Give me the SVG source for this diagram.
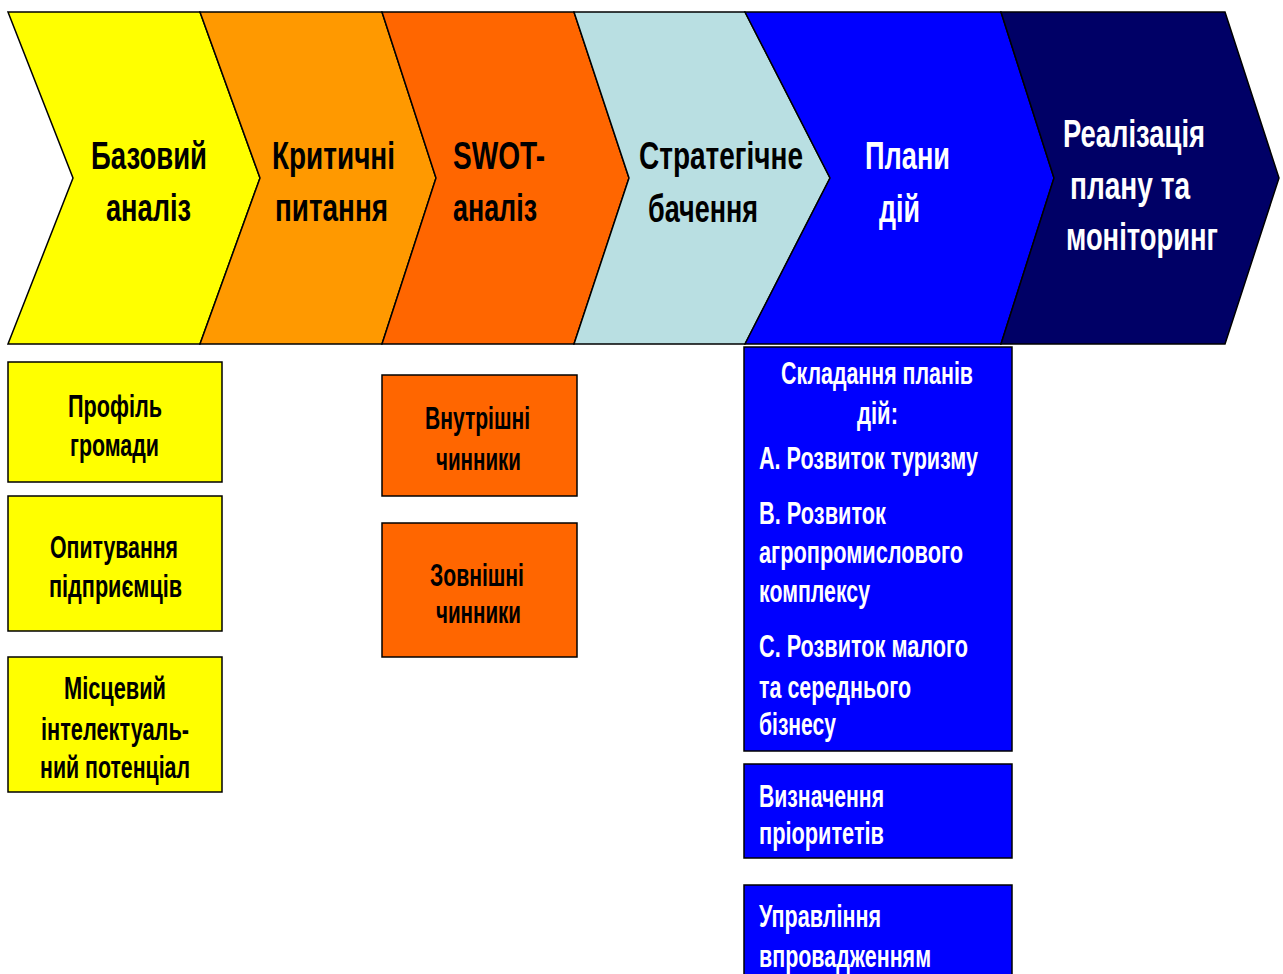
<svg xmlns="http://www.w3.org/2000/svg" width="1283" height="974" viewBox="0 0 1283 974">
<style>
.sh{stroke:#000;stroke-width:1.5;stroke-linejoin:miter}
.t{font-family:"Liberation Sans Narrow","Liberation Sans","DejaVu Sans Condensed",sans-serif;font-weight:bold}
.big{font-size:38px}
.sm{font-size:31px}
.k{fill:#000}
.w{fill:#fff}
</style>
<rect width="1283" height="974" fill="#fff"/>
<g id="chevrons">
<g id="ch1"><polygon class="sh" fill="#FFFF00" points="8,12 200,12 260,178 200,344 8,344 73,178"/>
<text class="t big k"><tspan x="91" y="169" textLength="116" lengthAdjust="spacingAndGlyphs">Базовий</tspan><tspan x="106" y="221" textLength="85" lengthAdjust="spacingAndGlyphs">аналіз</tspan></text></g>
<g id="ch2"><polygon class="sh" fill="#FF9900" points="200,12 382,12 436,178 382,344 200,344 260,178"/>
<text class="t big k"><tspan x="272" y="169" textLength="123" lengthAdjust="spacingAndGlyphs">Критичні</tspan><tspan x="275" y="221" textLength="113" lengthAdjust="spacingAndGlyphs">питання</tspan></text></g>
<g id="ch3"><polygon class="sh" fill="#FF6600" points="382,12 574,12 629,178 574,344 382,344 436,178"/>
<text class="t big k"><tspan x="453" y="169" textLength="92" lengthAdjust="spacingAndGlyphs">SWOT-</tspan><tspan x="453" y="221" textLength="84" lengthAdjust="spacingAndGlyphs">аналіз</tspan></text></g>
<g id="ch4"><polygon class="sh" fill="#B9DFE2" points="574,12 745,12 830,178 745,344 574,344 629,178"/>
<text class="t big k"><tspan x="639" y="169" textLength="164" lengthAdjust="spacingAndGlyphs">Стратегічне</tspan><tspan x="648" y="222" textLength="110" lengthAdjust="spacingAndGlyphs">бачення</tspan></text></g>
<g id="ch5"><polygon class="sh" fill="#0000FF" points="745,12 1001,12 1054,178 1001,344 745,344 830,178"/>
<text class="t big w"><tspan x="865" y="169" textLength="85" lengthAdjust="spacingAndGlyphs">Плани</tspan><tspan x="879" y="222" textLength="41" lengthAdjust="spacingAndGlyphs">дій</tspan></text></g>
<g id="ch6"><polygon class="sh" fill="#000066" points="1001,12 1225,12 1279,178 1225,344 1001,344 1054,178"/>
<text class="t big w"><tspan x="1063" y="147" textLength="142" lengthAdjust="spacingAndGlyphs">Реалізація</tspan><tspan x="1070" y="199" textLength="120" lengthAdjust="spacingAndGlyphs">плану та</tspan><tspan x="1066" y="250" textLength="152" lengthAdjust="spacingAndGlyphs">моніторинг</tspan></text></g>
</g>
<g id="yellow-boxes">
<g id="y1"><rect class="sh" fill="#FFFF00" x="8" y="362" width="214" height="120"/>
<text class="t sm k"><tspan x="68" y="417" textLength="94" lengthAdjust="spacingAndGlyphs">Профіль</tspan><tspan x="70" y="456" textLength="89" lengthAdjust="spacingAndGlyphs">громади</tspan></text></g>
<g id="y2"><rect class="sh" fill="#FFFF00" x="8" y="496" width="214" height="135"/>
<text class="t sm k"><tspan x="50" y="558" textLength="128" lengthAdjust="spacingAndGlyphs">Опитування</tspan><tspan x="49" y="597" textLength="133" lengthAdjust="spacingAndGlyphs">підприємців</tspan></text></g>
<g id="y3"><rect class="sh" fill="#FFFF00" x="8" y="657" width="214" height="135"/>
<text class="t sm k"><tspan x="64" y="699" textLength="102" lengthAdjust="spacingAndGlyphs">Місцевий</tspan><tspan x="41" y="740" textLength="148" lengthAdjust="spacingAndGlyphs">інтелектуаль-</tspan><tspan x="40" y="778" textLength="150" lengthAdjust="spacingAndGlyphs">ний потенціал</tspan></text></g>
</g>
<g id="orange-boxes">
<g id="o1"><rect class="sh" fill="#FF6600" x="382" y="375" width="195" height="121"/>
<text class="t sm k"><tspan x="425" y="429" textLength="105" lengthAdjust="spacingAndGlyphs">Внутрішні</tspan><tspan x="436" y="470" textLength="85" lengthAdjust="spacingAndGlyphs">чинники</tspan></text></g>
<g id="o2"><rect class="sh" fill="#FF6600" x="382" y="523" width="195" height="134"/>
<text class="t sm k"><tspan x="430" y="586" textLength="94" lengthAdjust="spacingAndGlyphs">Зовнішні</tspan><tspan x="436" y="623" textLength="85" lengthAdjust="spacingAndGlyphs">чинники</tspan></text></g>
</g>
<g id="blue-boxes">
<g id="b1"><rect class="sh" fill="#0000FF" x="744" y="347" width="268" height="404"/>
<text class="t sm w"><tspan x="781" y="384" textLength="192" lengthAdjust="spacingAndGlyphs">Складання планів</tspan><tspan x="857" y="424" textLength="41" lengthAdjust="spacingAndGlyphs">дій:</tspan><tspan x="759" y="469" textLength="219" lengthAdjust="spacingAndGlyphs">А. Розвиток туризму</tspan><tspan x="759" y="524" textLength="127" lengthAdjust="spacingAndGlyphs">В. Розвиток</tspan><tspan x="759" y="563" textLength="204" lengthAdjust="spacingAndGlyphs">агропромислового</tspan><tspan x="759" y="602" textLength="111" lengthAdjust="spacingAndGlyphs">комплексу</tspan><tspan x="759" y="657" textLength="209" lengthAdjust="spacingAndGlyphs">С. Розвиток малого</tspan><tspan x="759" y="698" textLength="152" lengthAdjust="spacingAndGlyphs">та середнього</tspan><tspan x="759" y="735" textLength="77" lengthAdjust="spacingAndGlyphs">бізнесу</tspan></text></g>
<g id="b2"><rect class="sh" fill="#0000FF" x="744" y="764" width="268" height="94"/>
<text class="t sm w"><tspan x="759" y="807" textLength="125" lengthAdjust="spacingAndGlyphs">Визначення</tspan><tspan x="759" y="844" textLength="125" lengthAdjust="spacingAndGlyphs">пріоритетів</tspan></text></g>
<g id="b3"><rect class="sh" fill="#0000FF" x="744" y="885" width="268" height="100"/>
<text class="t sm w"><tspan x="759" y="927" textLength="122" lengthAdjust="spacingAndGlyphs">Управління</tspan><tspan x="759" y="967" textLength="172" lengthAdjust="spacingAndGlyphs">впровадженням</tspan></text></g>
</g>
<g id="connectors"></g>
</svg>
